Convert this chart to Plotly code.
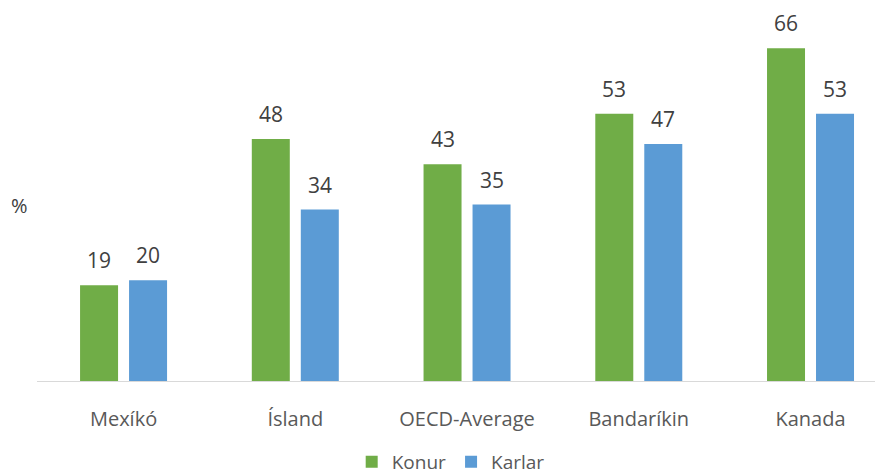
import plotly.graph_objects as go

categories = ["Mexíkó", "Ísland", "OECD-Average", "Bandaríkin", "Kanada"]
konur = [19, 48, 43, 53, 66]
karlar = [20, 34, 35, 47, 53]
series_names = ["Konur", "Karlar"]
colors = ["#70AD47", "#5B9BD5"]

FONT = "Open Sans"
fig = go.Figure()
for name, vals, col in zip(series_names, [konur, karlar], colors):
    fig.add_trace(go.Bar(x=categories, y=vals, name=name, marker_color=col,
                         marker_line_width=0))

ann = []
for vals, shift in zip([konur, karlar], [-24.5, 24.5]):
    for c, v in zip(categories, vals):
        ann.append(dict(x=c, y=v, text=str(v), showarrow=False, xshift=shift,
                        yshift=25, yanchor="middle",
                        font=dict(family=FONT, size=21, color="#404040")))
ann.append(dict(xref="paper", yref="paper", x=-0.0201, y=0.4958,
                xanchor="center", yanchor="middle", text="%", showarrow=False,
                font=dict(family=FONT, size=20, color="#404040")))

fig.update_layout(
    width=875, height=500,
    margin=dict(l=29, r=0, t=20, b=127),
    paper_bgcolor="white", plot_bgcolor="white",
    barmode="group", bargap=0.4294, bargroupgap=0.2245,
    font=dict(family=FONT, size=20, color="#595959"),
    xaxis=dict(type="category", range=[-0.504, 4.422], showline=True,
               linecolor="#D9D9D9", linewidth=1.3, ticks="outside", ticklen=20,
               tickcolor="rgba(0,0,0,0)", tickfont=dict(size=20, color="#595959"),
               showgrid=False, zeroline=False),
    yaxis=dict(range=[0, 70], visible=False, showgrid=False, zeroline=False),
    legend=dict(orientation="h", x=0.489, xanchor="center", y=-0.2295,
                yanchor="middle", font=dict(size=19, color="#595959"),
                itemwidth=30, traceorder="normal"),
    annotations=ann,
)
fig.write_html("out.html")
